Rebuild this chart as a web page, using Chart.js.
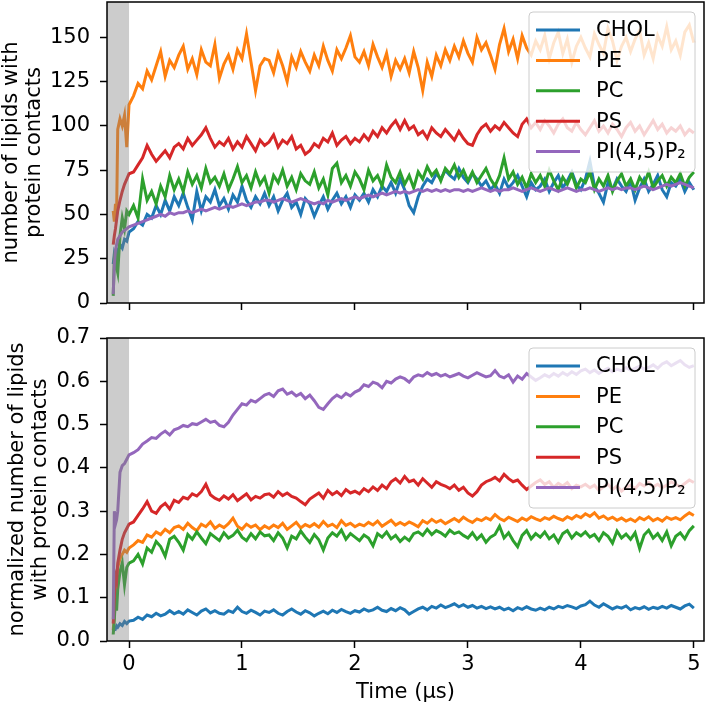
<!DOCTYPE html>
<html>
<head>
<meta charset="utf-8">
<script src="https://cdn.jsdelivr.net/npm/chart.js@4.4.0/dist/chart.umd.min.js"></script>
<style>
  body { margin: 0; background: #fff; }
  #wrap { position: relative; width: 707px; height: 705px; }
  canvas { position: absolute; left: 0; }
</style>
</head>
<body>
<div id="wrap">
  <canvas id="top-chart" width="707" height="330" style="top:0"></canvas>
  <canvas id="bottom-chart" width="707" height="395" style="top:310px"></canvas>
</div>
<script>
// time axis (µs)
const times = [
  -0.14, -0.13, -0.12, -0.11, -0.10, -0.08, -0.06, -0.04, -0.02, 0.00,
  0.04, 0.08, 0.12, 0.16, 0.20, 0.24, 0.28, 0.32, 0.36, 0.40,
  0.44, 0.48, 0.52, 0.56, 0.60, 0.64, 0.68, 0.72, 0.76, 0.80,
  0.84, 0.88, 0.92, 0.96, 1.00, 1.04, 1.08, 1.12, 1.16, 1.20,
  1.24, 1.28, 1.32, 1.36, 1.40, 1.44, 1.48, 1.52, 1.56, 1.60,
  1.64, 1.68, 1.72, 1.76, 1.80, 1.84, 1.88, 1.92, 1.96, 2.00,
  2.04, 2.08, 2.12, 2.16, 2.20, 2.24, 2.28, 2.32, 2.36, 2.40,
  2.44, 2.48, 2.52, 2.56, 2.60, 2.64, 2.68, 2.72, 2.76, 2.80,
  2.84, 2.88, 2.92, 2.96, 3.00, 3.04, 3.08, 3.12, 3.16, 3.20,
  3.24, 3.28, 3.32, 3.36, 3.40, 3.44, 3.48, 3.52, 3.56, 3.60,
  3.64, 3.68, 3.72, 3.76, 3.80, 3.84, 3.88, 3.92, 3.96, 4.00,
  4.04, 4.08, 4.12, 4.16, 4.20, 4.24, 4.28, 4.32, 4.36, 4.40,
  4.44, 4.48, 4.52, 4.56, 4.60, 4.64, 4.68, 4.72, 4.76, 4.80,
  4.84, 4.88, 4.92, 4.96, 5.00
];

const seriesNames = ["CHOL", "PE", "PC", "PS", "PI(4,5)P\u2082"];
const xTicks = [0, 1, 2, 3, 4, 5];
const topYTicks = [0, 25, 50, 75, 100, 125, 150];
const bottomYTicks = [0, 0.1, 0.2, 0.3, 0.4, 0.5, 0.6, 0.7];

// top panel: number of lipids with protein contacts
const topChol = [
  22, 28, 26, 30, 29, 33, 31, 36, 35, 40,
  42, 46, 44, 50, 48, 55, 50, 58, 52, 60,
  55, 62, 54, 47, 63, 52, 60, 57, 64, 55,
  59, 53, 61, 57, 66, 58, 54, 60, 56, 62,
  55, 60, 52, 58, 62, 54, 57, 50, 59, 56,
  49, 55, 60, 53, 58, 62, 56, 60, 54, 61,
  58, 62, 57, 64, 60, 66, 63, 68, 62, 70,
  64, 55, 51, 60, 66, 70, 68, 73, 70, 75,
  72, 70, 76, 71, 68, 73, 70, 66, 69, 64,
  67, 62, 70, 65, 68, 72, 66, 60, 68, 64,
  66, 70, 63, 68, 72, 65, 69, 74, 67, 64,
  70, 80, 66, 62, 57, 68, 64, 70, 66, 63,
  69, 58, 65, 70, 63, 67, 72, 64, 60, 68,
  66, 70, 63, 68, 64
];
const topPe = [
  52, 46, 56, 50, 98, 104, 100, 106, 88, 112,
  117, 124, 121, 131, 126, 134, 142, 128, 137, 133,
  140, 145, 132, 138, 129, 143, 136, 134, 146, 127,
  135, 140, 132, 143, 138, 152, 136, 120, 134, 138,
  137, 130, 141, 134, 125, 139, 133, 142, 136, 131,
  140, 134, 145, 137, 131, 143, 138, 144, 151, 139,
  136, 142, 134, 146, 139, 133, 141, 128, 137, 132,
  138, 130, 142, 133, 120, 136, 128, 140, 134, 143,
  137, 145, 139, 148, 141, 136, 150, 143, 147, 140,
  132, 146, 155, 142, 149, 138, 151, 144, 140, 148,
  143, 151, 138, 147, 153, 141, 149, 136, 145, 150,
  144, 139, 152, 146, 141, 155, 148, 137, 145, 150,
  142, 149, 154, 140, 147, 138, 151, 145, 156, 143,
  148, 140, 153, 157, 147
];
const topPc = [
  4, 25, 30, 20, 17, 38, 48, 42, 52, 50,
  55, 48, 70, 58, 63, 56, 66, 60, 72, 64,
  70, 63, 74, 67, 72, 65, 76, 68, 71, 66,
  73, 64, 70, 77, 68, 72, 65, 74, 67, 71,
  62, 72, 68, 75, 66, 71, 64, 73, 69, 67,
  74, 65, 70, 61, 76, 79, 68, 72, 66, 74,
  70, 64, 75, 69, 72, 66, 78, 71, 68, 74,
  67, 72, 65, 74, 70, 77, 72, 75, 69, 76,
  73, 78, 71, 75, 69, 74, 68, 72, 76, 70,
  66, 72, 82, 70, 74, 67, 71, 65, 73, 68,
  72, 66, 75, 69, 64, 71, 67, 73, 65, 70,
  68, 74, 64, 70, 66, 72, 63, 69, 73, 66,
  70, 64, 71, 67, 74, 65, 69, 72, 66, 71,
  68, 73, 66, 71, 74
];
const topPs = [
  33, 38, 42, 47, 52, 58, 63, 67, 70, 73,
  74, 78, 82, 89, 84, 80, 83, 86, 82, 88,
  90, 87, 93, 89, 92, 95, 99, 93, 88, 91,
  89, 93, 87, 91, 88, 94, 90, 86, 92, 89,
  91, 95, 88, 92, 90, 94, 87, 89, 84, 86,
  90, 88, 93, 91, 96, 89, 92, 94, 90, 93,
  91, 95, 92, 97, 94, 99, 96, 100, 103, 98,
  103, 98, 100, 95, 97, 93, 99, 96, 94, 98,
  95, 92, 97, 93, 90, 89, 95, 99, 101, 97,
  100, 98, 102, 99, 96, 94, 101, 104, 99, 102,
  98, 103, 100, 96, 101, 104, 99, 97, 102, 98,
  95, 99, 103, 97, 100, 96, 101, 98, 94, 99,
  102, 97, 100, 95, 99, 103, 98, 101, 96, 99,
  97, 100, 95, 98, 96
];
const topPip2 = [
  5, 22, 30, 33, 36, 38, 40, 41, 42, 43,
  44, 45, 46, 47, 48, 49, 50, 49, 51, 50,
  51, 51, 52, 51, 52, 53, 52, 53, 54, 53,
  54, 55, 54, 55, 56, 55, 56, 57, 57, 58,
  58, 57, 58, 59, 58, 57, 58, 59, 58, 57,
  56, 57, 56, 58, 57, 58, 59, 58, 59, 60,
  59, 60, 61, 60, 61, 62, 61, 62, 63, 62,
  63, 62, 63, 64, 63, 64, 63, 64, 63, 64,
  63, 64, 64, 63, 64, 63, 64, 65, 64, 63,
  64, 63, 64, 64, 65, 64, 63, 64, 65, 64,
  63, 64, 65, 64, 63, 64, 65, 64, 63, 64,
  64, 65, 64, 63, 64, 65, 64, 65, 64, 65,
  65, 64, 65, 66, 65, 64, 65, 66, 67, 66,
  67, 68, 67, 66, 65
];

// bottom panel: normalized number of lipids with protein contacts
const bottomChol = [
  0.022, 0.030, 0.028, 0.035, 0.032, 0.040, 0.036, 0.045, 0.040, 0.046,
  0.048, 0.055, 0.050, 0.060, 0.056, 0.064, 0.058, 0.062, 0.070, 0.063,
  0.068, 0.062, 0.072, 0.066, 0.060, 0.069, 0.074, 0.065, 0.070, 0.064,
  0.062, 0.070, 0.066, 0.078, 0.068, 0.064, 0.071, 0.066, 0.060, 0.069,
  0.066, 0.072, 0.064, 0.060, 0.068, 0.074, 0.067, 0.062, 0.070, 0.065,
  0.058, 0.064, 0.069, 0.063, 0.071, 0.066, 0.073, 0.068, 0.064, 0.070,
  0.067, 0.074, 0.069, 0.072, 0.078, 0.071, 0.068, 0.075, 0.070, 0.077,
  0.072, 0.062, 0.068, 0.074, 0.078, 0.072, 0.080, 0.076, 0.083, 0.077,
  0.081, 0.086, 0.079, 0.084, 0.078, 0.082, 0.076, 0.080, 0.075, 0.079,
  0.074, 0.078, 0.072, 0.076, 0.070, 0.077, 0.073, 0.079, 0.074, 0.071,
  0.076, 0.072, 0.078, 0.074, 0.080, 0.077, 0.082, 0.079, 0.075, 0.081,
  0.084, 0.092, 0.083, 0.078, 0.086, 0.080, 0.074, 0.079, 0.076, 0.081,
  0.072, 0.077, 0.074, 0.079, 0.073, 0.078, 0.075, 0.080, 0.076, 0.082,
  0.078, 0.074, 0.081, 0.085, 0.076
];
const bottomPe = [
  0.025, 0.060, 0.100, 0.140, 0.170, 0.190, 0.200, 0.210, 0.205, 0.215,
  0.222, 0.232, 0.228, 0.245, 0.240, 0.252, 0.246, 0.258, 0.250, 0.262,
  0.266, 0.258, 0.272, 0.262, 0.255, 0.270, 0.264, 0.275, 0.260, 0.268,
  0.262, 0.271, 0.284, 0.265, 0.258, 0.270, 0.263, 0.268, 0.257, 0.266,
  0.260, 0.268, 0.262, 0.272, 0.258, 0.266, 0.274, 0.261, 0.269, 0.264,
  0.271, 0.263, 0.276, 0.265, 0.270, 0.262, 0.278, 0.267, 0.272, 0.264,
  0.270, 0.266, 0.274, 0.268, 0.277, 0.265, 0.272, 0.279, 0.268, 0.274,
  0.268, 0.275, 0.270, 0.264, 0.278, 0.272, 0.281, 0.274, 0.279, 0.271,
  0.277, 0.283, 0.276, 0.286, 0.279, 0.274, 0.282, 0.278, 0.285, 0.280,
  0.292, 0.283, 0.278, 0.286, 0.281, 0.276, 0.284, 0.279, 0.287, 0.282,
  0.278, 0.285, 0.281, 0.288, 0.283, 0.279, 0.287, 0.282, 0.290, 0.285,
  0.294, 0.288, 0.296, 0.284, 0.289, 0.281, 0.286, 0.279, 0.284, 0.277,
  0.282, 0.276, 0.285, 0.280, 0.287, 0.278, 0.283, 0.277, 0.286, 0.281,
  0.285, 0.280, 0.289, 0.296, 0.290
];
const bottomPc = [
  0.015, 0.050, 0.100, 0.070, 0.120, 0.160, 0.180, 0.130, 0.170, 0.180,
  0.185, 0.200, 0.178, 0.215, 0.205, 0.230, 0.218, 0.196, 0.235, 0.242,
  0.228, 0.210, 0.246, 0.235, 0.252, 0.238, 0.225, 0.248, 0.240, 0.232,
  0.250, 0.238, 0.244, 0.256, 0.240, 0.232, 0.248, 0.236, 0.252, 0.243,
  0.245, 0.232, 0.250, 0.238, 0.215, 0.242, 0.236, 0.254, 0.240, 0.228,
  0.246, 0.234, 0.210, 0.238, 0.250, 0.242, 0.256, 0.235, 0.248, 0.240,
  0.232, 0.245, 0.238, 0.220, 0.248, 0.240, 0.252, 0.236, 0.244, 0.230,
  0.240, 0.232, 0.248, 0.252, 0.244, 0.258, 0.246, 0.255, 0.250, 0.242,
  0.256, 0.248, 0.252, 0.244, 0.238, 0.250, 0.235, 0.245, 0.228, 0.240,
  0.246, 0.265, 0.238, 0.250, 0.232, 0.218, 0.244, 0.255, 0.236, 0.248,
  0.240, 0.252, 0.236, 0.245, 0.228, 0.248, 0.255, 0.238, 0.250, 0.243,
  0.252, 0.240, 0.246, 0.232, 0.250, 0.242, 0.226, 0.254, 0.238, 0.247,
  0.235, 0.250, 0.214, 0.245, 0.256, 0.238, 0.248, 0.232, 0.252, 0.220,
  0.242, 0.250, 0.236, 0.255, 0.266
];
const bottomPs = [
  0.040, 0.100, 0.150, 0.140, 0.180, 0.210, 0.235, 0.250, 0.260, 0.270,
  0.275, 0.290, 0.305, 0.322, 0.300, 0.295, 0.310, 0.318, 0.305, 0.325,
  0.320, 0.332, 0.328, 0.340, 0.335, 0.345, 0.362, 0.338, 0.330, 0.325,
  0.335, 0.328, 0.338, 0.324, 0.332, 0.340, 0.326, 0.334, 0.330, 0.338,
  0.340, 0.332, 0.345, 0.336, 0.342, 0.334, 0.330, 0.322, 0.315, 0.328,
  0.335, 0.342, 0.330, 0.348, 0.338, 0.345, 0.336, 0.350, 0.342, 0.346,
  0.340, 0.352, 0.345, 0.356, 0.348, 0.360, 0.352, 0.368, 0.375, 0.365,
  0.380, 0.368, 0.372, 0.360, 0.375, 0.365, 0.355, 0.368, 0.362, 0.358,
  0.352, 0.360, 0.348, 0.355, 0.342, 0.335, 0.345, 0.360, 0.368, 0.372,
  0.378, 0.370, 0.385, 0.375, 0.368, 0.372, 0.360, 0.350, 0.358, 0.366,
  0.372, 0.362, 0.368, 0.355, 0.364, 0.358, 0.366, 0.352, 0.360, 0.356,
  0.362, 0.354, 0.360, 0.348, 0.356, 0.362, 0.350, 0.358, 0.346, 0.355,
  0.360, 0.352, 0.364, 0.358, 0.366, 0.356, 0.362, 0.354, 0.360, 0.368,
  0.362, 0.356, 0.364, 0.372, 0.366
];
const bottomPip2 = [
  0.050, 0.300, 0.270, 0.280, 0.300, 0.390, 0.405, 0.410, 0.420, 0.430,
  0.435, 0.442, 0.455, 0.462, 0.470, 0.468, 0.478, 0.485, 0.476, 0.488,
  0.492, 0.498, 0.495, 0.502, 0.500, 0.506, 0.512, 0.505, 0.508, 0.498,
  0.495, 0.505, 0.522, 0.535, 0.548, 0.545, 0.556, 0.552, 0.560, 0.568,
  0.572, 0.565, 0.578, 0.582, 0.570, 0.575, 0.566, 0.572, 0.560, 0.568,
  0.555, 0.540, 0.535, 0.548, 0.560, 0.568, 0.562, 0.572, 0.566, 0.575,
  0.580, 0.592, 0.588, 0.598, 0.594, 0.585, 0.600, 0.596, 0.605, 0.610,
  0.606, 0.598, 0.610, 0.615, 0.612, 0.620, 0.614, 0.618, 0.612, 0.616,
  0.610, 0.614, 0.618, 0.612, 0.608, 0.614, 0.620, 0.615, 0.610, 0.613,
  0.625, 0.612, 0.608, 0.615, 0.598, 0.612, 0.605, 0.618, 0.610, 0.602,
  0.608, 0.615, 0.610, 0.618, 0.612, 0.620, 0.614, 0.622, 0.616, 0.624,
  0.628, 0.620, 0.626, 0.618, 0.625, 0.630, 0.622, 0.628, 0.624, 0.632,
  0.626, 0.630, 0.635, 0.628, 0.632, 0.638, 0.630, 0.640, 0.645, 0.636,
  0.642, 0.648, 0.638, 0.632, 0.636
];

const lineColors = ["#1f77b4", "#ff7f0e", "#2ca02c", "#d62728", "#9467bd"];

Chart.defaults.font.family = "'DejaVu Sans', sans-serif";
Chart.defaults.font.size = 21;
Chart.defaults.color = "#000";

// grey span before t=0 (drawn over the lines), legend box and axes frame
const panelDecor = {
  id: "panelDecor",
  afterDatasetsDraw(chart) {
    const { ctx, chartArea: a, scales: { x } } = chart;
    ctx.save();
    ctx.fillStyle = "rgba(128,128,128,0.4)";
    const x0 = x.getPixelForValue(0);
    ctx.fillRect(a.left, a.top, x0 - a.left, a.bottom - a.top);

    const boxW = 166, boxH = 160;
    const bx = a.right - 9 - boxW, by = a.top + 10;
    ctx.beginPath();
    ctx.roundRect(bx, by, boxW, boxH, 4);
    ctx.fillStyle = "rgba(255,255,255,0.8)";
    ctx.fill();
    ctx.strokeStyle = "#cccccc";
    ctx.lineWidth = 1;
    ctx.stroke();

    ctx.font = "21px 'DejaVu Sans'";
    ctx.textBaseline = "middle";
    seriesNames.forEach((name, i) => {
      const y = by + 18 + i * 30.4;
      ctx.strokeStyle = lineColors[i];
      ctx.lineWidth = 3;
      ctx.beginPath();
      ctx.moveTo(bx + 7, y);
      ctx.lineTo(bx + 51, y);
      ctx.stroke();
      ctx.fillStyle = "#000";
      ctx.fillText(name, bx + 67, y + 1);
    });
    ctx.restore();
  },
  afterDraw(chart) {
    const { ctx, chartArea: a } = chart;
    ctx.save();
    ctx.strokeStyle = "#000";
    ctx.lineWidth = 1.5;
    ctx.strokeRect(a.left, a.top, a.right - a.left, a.bottom - a.top);
    ctx.restore();
  }
};

function noLabelPadding(s) {
  s.paddingTop = 0;
  s.paddingBottom = 0;
  s.paddingLeft = 0;
  s.paddingRight = 0;
}

function buildPanel(canvasId, series, cfg) {
  const datasets = series.map((values, i) => ({
    label: seriesNames[i],
    data: times.map((t, k) => ({ x: t, y: values[k] })),
    borderColor: lineColors[i],
    borderWidth: 3,
    pointRadius: 0,
    tension: 0,
    order: series.length - i
  }));

  return new Chart(document.getElementById(canvasId), {
    type: "line",
    data: { datasets },
    plugins: [panelDecor],
    options: {
      responsive: false,
      animation: false,
      events: [],
      layout: { padding: { top: cfg.padTop, right: 3, left: 0, bottom: 0 } },
      plugins: { legend: { display: false }, tooltip: { enabled: false } },
      scales: {
        x: {
          type: "linear",
          min: -0.195,
          max: 5.09,
          afterBuildTicks: (s) => { s.ticks = xTicks.map((v) => ({ value: v })); },
          afterFit: (s) => { s.height = cfg.xHeight; noLabelPadding(s); },
          ticks: { display: cfg.showX, padding: 4, maxRotation: 0, autoSkip: false, callback: (v) => String(v) },
          grid: { drawOnChartArea: false, tickLength: 7, tickWidth: 1.5, tickColor: "#000" },
          border: { display: false },
          title: { display: cfg.showX, text: "Time (\u03bcs)", padding: { top: 0, bottom: 0 } }
        },
        y: {
          min: 0,
          max: cfg.yMax,
          afterBuildTicks: (s) => { s.ticks = cfg.yTicks.map((v) => ({ value: v })); },
          afterFit: (s) => { s.width = 107; noLabelPadding(s); },
          ticks: { padding: 10, callback: cfg.yFormat },
          grid: { drawOnChartArea: false, tickLength: 7, tickWidth: 1.5, tickColor: "#000" },
          border: { display: false },
          title: { display: true, text: cfg.yTitle, font: { size: 21, lineHeight: 1.1 }, padding: { top: cfg.titlePad, bottom: 0 } }
        }
      }
    }
  });
}

buildPanel("top-chart", [topChol, topPe, topPc, topPs, topPip2], {
  padTop: 2, xHeight: 27, showX: false, yMax: 170, yTicks: topYTicks,
  yFormat: (v) => String(v),
  yTitle: ["number of lipids with", "protein contacts"], titlePad: 0
});

buildPanel("bottom-chart", [bottomChol, bottomPe, bottomPc, bottomPs, bottomPip2], {
  padTop: 28, xHeight: 64, showX: true, yMax: 0.7, yTicks: bottomYTicks,
  yFormat: (v) => v.toFixed(1),
  yTitle: ["normalized number of lipids", "with protein contacts"], titlePad: 6
});
</script>
</body>
</html>
